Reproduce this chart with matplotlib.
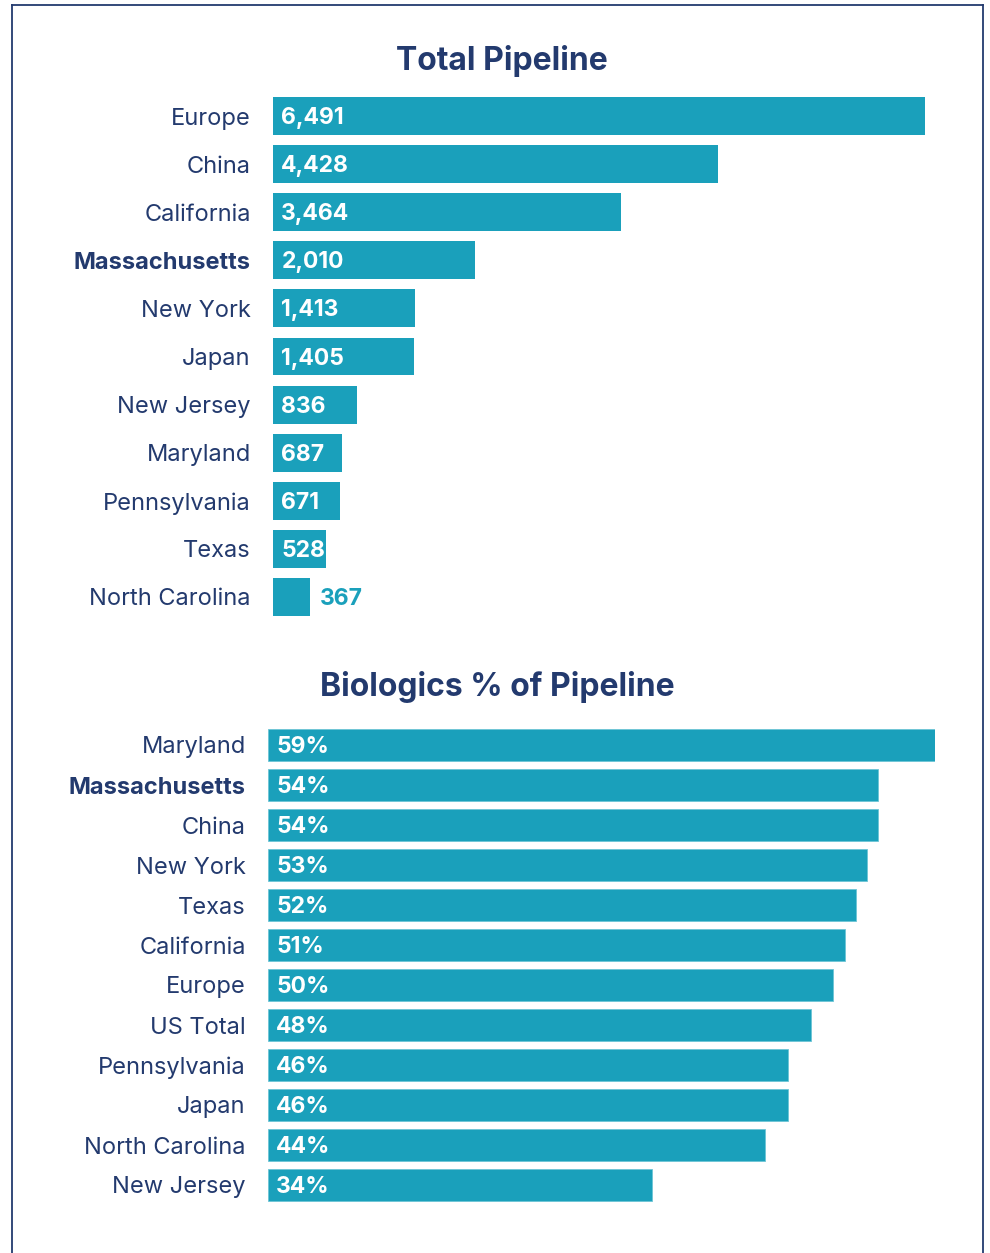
import matplotlib.pyplot as plt
from matplotlib.lines import Line2D

# Data
pipeline_regions = ['Europe', 'China', 'California', 'Massachusetts', 'New York', 'Japan',
                    'New Jersey', 'Maryland', 'Pennsylvania', 'Texas', 'North Carolina']
pipeline_totals = [6491, 4428, 3464, 2010, 1413, 1405, 836, 687, 671, 528, 367]

bio_regions = ['Maryland', 'Massachusetts', 'China', 'New York', 'Texas', 'California',
               'Europe', 'US Total', 'Pennsylvania', 'Japan', 'North Carolina', 'New Jersey']
bio_share = [59, 54, 54, 53, 52, 51, 50, 48, 46, 46, 44, 34]

BAR = '#1aa0bb'
NAVY = '#233a6e'
W, H = 990, 1253

plt.rcParams['font.family'] = ['Inter', 'DejaVu Sans']

fig = plt.figure(figsize=(W / 100, H / 100), dpi=100)


def px_axes(left, top, right, bottom):
    # axes placed by pixel edges
    return fig.add_axes([left / W, 1 - bottom / H, (right - left) / W, (bottom - top) / H])


# frame around the panel
for xs, ys in [([12, 12], [5, H + 5]), ([983, 983], [5, H + 5]), ([12, 983], [5, 5])]:
    fig.add_artist(Line2D([x / W for x in xs], [1 - y / H for y in ys],
                          color=NAVY, lw=1.3, transform=fig.transFigure))

# Total Pipeline
ax1 = px_axes(273, 92, 925, 621)
ypos = range(len(pipeline_regions))
ax1.barh(ypos, pipeline_totals, height=0.79, color=BAR)
ax1.set_xlim(0, max(pipeline_totals))
ax1.set_ylim(len(pipeline_regions) - 0.5, -0.5)
for y, v in zip(ypos, pipeline_totals):
    txt = f'{v:,}'
    if v < 400:
        ax1.annotate(txt, (v, y), xytext=(7, -1.5), textcoords='offset points',
                     va='center', ha='left', color=BAR, fontsize=16.5, fontweight='bold')
    else:
        ax1.annotate(txt, (0, y), xytext=(6, -1.5), textcoords='offset points',
                     va='center', ha='left', color='white', fontsize=16.5, fontweight='bold')

# Biologics % of Pipeline
ax2 = px_axes(268, 725, 935, 1205)
ypos2 = range(len(bio_regions))
ax2.barh(ypos2, bio_share, height=0.82, color=BAR, edgecolor='#6cc5d6', linewidth=0.6)
ax2.set_xlim(0, max(bio_share))
ax2.set_ylim(len(bio_regions) - 0.5, -0.5)
for y, v in zip(ypos2, bio_share):
    ax2.annotate(f'{v}%', (0, y), xytext=(6, -1.5), textcoords='offset points',
                 va='center', ha='left', color='white', fontsize=16.5, fontweight='bold')

for ax, labels in [(ax1, pipeline_regions), (ax2, bio_regions)]:
    ax.set_yticks(range(len(labels)))
    ax.set_yticklabels(labels, fontsize=17, color=NAVY)
    ax.tick_params(axis='y', length=0, pad=16)
    ax.set_xticks([])
    for s in ax.spines.values():
        s.set_visible(False)
    for t in ax.get_yticklabels():
        if t.get_text() == 'Massachusetts':
            t.set_fontweight('bold')

fig.text(502 / W, 1 - 61 / H, 'Total Pipeline', ha='center', va='center',
         fontsize=23, fontweight='bold', color=NAVY)
fig.text(497 / W, 1 - 687 / H, 'Biologics % of Pipeline', ha='center', va='center',
         fontsize=23, fontweight='bold', color=NAVY)

fig.savefig('out.png', dpi=100, facecolor='white')
